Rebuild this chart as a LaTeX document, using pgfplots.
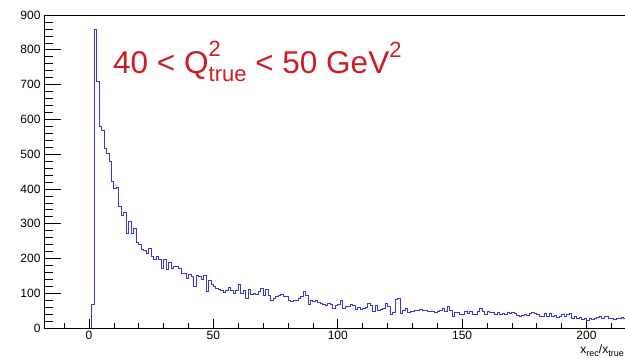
\documentclass[border=0pt]{standalone}
\usepackage{fontspec}
\setmainfont{Liberation Sans}
\usepackage{pgfplots}
\pgfplotsset{compat=1.18}
\definecolor{histblue}{RGB}{55,55,200}
\definecolor{titlered}{RGB}{206,28,36}
\begin{document}
\begin{tikzpicture}
\begin{axis}[
  scale only axis, width=582.3pt, height=313pt,
  xmin=-18.1, xmax=216, ymin=0, ymax=900,
  xtick={0,50,...,200}, ytick={0,100,...,900},
  minor xtick={-10,0,...,210}, minor ytick={0,20,...,900},
  tick pos=left, tick align=inside,
  xtick style={/pgfplots/major tick length=9.5pt,/pgfplots/minor tick length=5pt,black,line width=0.6pt},
  ytick style={/pgfplots/major tick length=17pt,/pgfplots/minor tick length=8.5pt,black,line width=0.6pt},
  axis line style={line width=0.8pt},
  ticklabel style={font=\fontsize{12}{14}\selectfont},
  /pgf/number format/assume math mode=true,
  scaled ticks=false,
]
\addplot[const plot, histblue, line width=0.8pt] coordinates {
(1,0) (1,68) (2,859) (3,710) (4,579) (5,569) (6,517) (7,502) (8,478) (9,421) (10,402)
(11,403) (12,349) (13,325) (14,331) (15,272) (16,306) (17,272) (18,287) (19,245) (20,239)
(21,226) (22,224) (23,215) (24,229) (25,205) (26,197) (27,207) (28,196) (29,172) (30,196)
(31,169) (32,188) (33,172) (34,177) (35,177) (36,172) (37,157) (38,157) (39,143) (40,154)
(41,147) (42,121) (43,151) (44,147) (45,140) (46,150) (47,104) (48,138) (49,124) (50,121)
(51,114) (52,111) (53,107) (54,101) (55,107) (56,117) (57,108) (58,99) (59,107) (60,124)
(61,99) (62,108) (63,85) (64,111) (65,97) (66,99) (67,98) (68,104) (69,114) (70,93)
(71,111) (72,93) (73,80) (74,85) (75,90) (76,93) (77,98) (78,92) (79,90) (80,80)
(81,76) (82,78) (83,80) (84,85) (85,92) (86,104) (87,95) (88,69) (89,79) (90,76)
(91,79) (92,73) (93,71) (94,69) (95,66) (96,71) (97,69) (98,57) (99,66) (100,69)
(101,79) (102,57) (103,63) (104,62) (105,69) (106,66) (107,54) (108,60) (109,54) (110,57)
(111,60) (112,71) (113,66) (114,49) (115,66) (116,50) (117,54) (118,57) (119,71) (120,62)
(121,39) (122,44) (123,82) (124,85) (125,42) (126,52) (127,57) (128,44) (129,49) (130,49)
(131,52) (132,50) (133,54) (134,50) (135,50) (136,49) (137,47) (138,47) (139,45) (140,47)
(141,50) (142,55) (143,47) (144,61) (145,51) (146,33) (147,45) (148,45) (149,39) (150,40)
(151,49) (152,42) (153,49) (154,40) (155,39) (156,47) (157,57) (158,47) (159,39) (160,47)
(161,44) (162,44) (163,39) (164,44) (165,40) (166,42) (167,40) (168,44) (169,42) (170,44)
(171,42) (172,37) (173,34) (174,37) (175,39) (176,37) (177,42) (178,45) (179,42) (180,40)
(181,34) (182,33) (183,42) (184,33) (185,42) (186,33) (187,37) (188,31) (189,34) (190,39)
(191,33) (192,40) (193,42) (194,28) (195,33) (196,28) (197,31) (198,25) (199,28) (200,23)
(201,28) (202,25) (203,28) (204,31) (205,33) (206,28) (207,34) (208,33) (209,28) (210,28)
(211,25) (212,28) (213,28) (214,30) (215,27) (216,27)
};
\coordinate (BL) at (rel axis cs:0,0);
\node[anchor=base west, text=titlered, font=\fontsize{31.5}{34}\selectfont, inner sep=0pt]
  at (axis cs:9.65,733) {40 < Q\rlap{\raisebox{17pt}{\fontsize{22}{22}\selectfont 2}}\raisebox{-8pt}{\fontsize{22}{22}\selectfont true} < 50 GeV\raisebox{16pt}{\fontsize{22}{22}\selectfont 2}};
\end{axis}
\node[anchor=base east, inner sep=0pt, font=\fontsize{12}{14}\selectfont]
  at ([xshift=580pt,yshift=-25pt]BL) {x\raisebox{-3pt}{\fontsize{9}{9}\selectfont rec}/x\raisebox{-3pt}{\fontsize{9}{9}\selectfont true}};
\pgfresetboundingbox
\path[use as bounding box] (BL) ++(-44pt,-29pt) rectangle ++(625pt,357pt);
\end{tikzpicture}
\end{document}
